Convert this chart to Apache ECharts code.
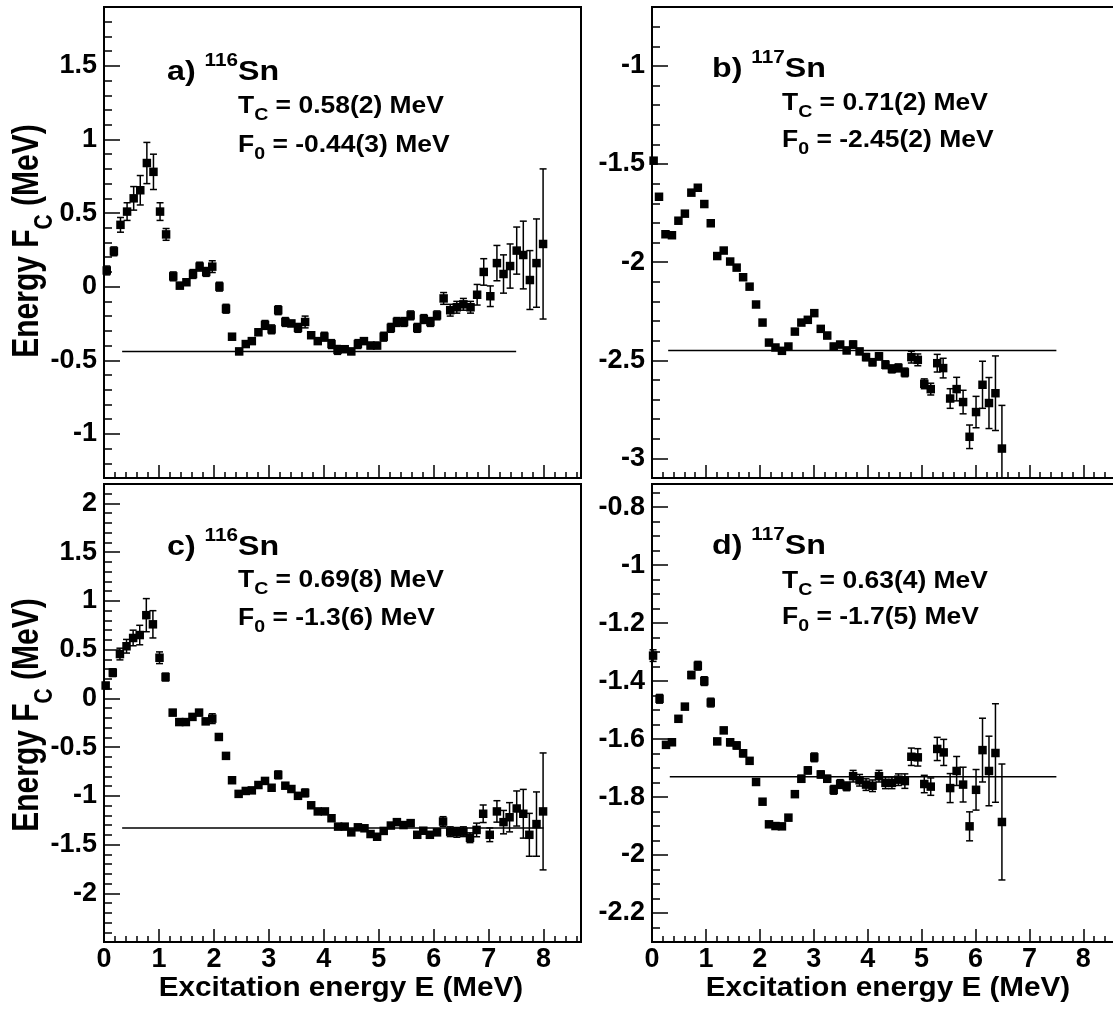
<!DOCTYPE html>
<html>
<head>
<meta charset="utf-8">
<script src="https://cdn.jsdelivr.net/npm/echarts@6/dist/echarts.min.js"></script>
<style>
  html, body { margin: 0; padding: 0; background: #fff; }
  #chart { width: 1113px; height: 1009px; }
</style>
</head>
<body>
<div id="chart"></div>
<script>
// ---- data ----
const aE = [0.05,0.18,0.30,0.42,0.54,0.66,0.78,0.90,1.02,1.13,1.26,1.38,1.50,1.62,1.74,1.86,1.97,2.10,2.22,2.33,2.46,2.58,2.69,2.81,2.93,3.05,3.17,3.30,3.41,3.53,3.66,3.77,3.89,4.01,4.14,4.25,4.38,4.50,4.62,4.73,4.85,4.97,5.09,5.22,5.33,5.46,5.58,5.70,5.82,5.94,6.06,6.18,6.30,6.42,6.54,6.67,6.79,6.91,7.03,7.15,7.27,7.39,7.51,7.63,7.75,7.87,7.99]
const aF = [0.11,0.24,0.42,0.51,0.60,0.655,0.84,0.78,0.51,0.355,0.07,0.007,0.03,0.086,0.136,0.10,0.136,0.0,-0.15,-0.34,-0.44,-0.39,-0.37,-0.31,-0.26,-0.29,-0.16,-0.24,-0.25,-0.28,-0.24,-0.33,-0.37,-0.34,-0.39,-0.43,-0.425,-0.44,-0.39,-0.37,-0.40,-0.40,-0.34,-0.28,-0.24,-0.24,-0.195,-0.28,-0.22,-0.24,-0.195,-0.08,-0.16,-0.14,-0.12,-0.14,-0.055,0.10,-0.065,0.16,0.086,0.14,0.245,0.215,0.045,0.16,0.29]
const aErr = [0.03,0.03,0.05,0.06,0.08,0.10,0.14,0.12,0.06,0.04,0.03,0.02,0.02,0.03,0.03,0.03,0.04,0.03,0.03,0.02,0.02,0.02,0.02,0.02,0.03,0.03,0.03,0.03,0.02,0.03,0.04,0.02,0.02,0.03,0.03,0.03,0.02,0.02,0.03,0.02,0.02,0.02,0.03,0.03,0.03,0.03,0.03,0.03,0.03,0.03,0.03,0.04,0.04,0.04,0.04,0.04,0.07,0.09,0.07,0.12,0.13,0.15,0.16,0.23,0.2,0.3,0.51]

const bE = [0.03,0.13,0.25,0.37,0.49,0.61,0.73,0.85,0.97,1.09,1.21,1.33,1.45,1.57,1.69,1.81,1.93,2.05,2.17,2.29,2.41,2.53,2.65,2.77,2.89,3.01,3.13,3.25,3.37,3.49,3.61,3.73,3.85,3.97,4.09,4.21,4.33,4.45,4.57,4.69,4.81,4.93,5.05,5.17,5.29,5.40,5.53,5.65,5.77,5.89,6.01,6.13,6.25,6.37,6.49]
const bF = [-1.483,-1.667,-1.858,-1.863,-1.789,-1.753,-1.646,-1.621,-1.704,-1.802,-1.969,-1.941,-1.997,-2.028,-2.077,-2.125,-2.216,-2.308,-2.41,-2.435,-2.452,-2.43,-2.354,-2.308,-2.294,-2.26,-2.34,-2.374,-2.43,-2.42,-2.45,-2.42,-2.455,-2.484,-2.51,-2.48,-2.523,-2.544,-2.539,-2.562,-2.484,-2.498,-2.62,-2.647,-2.515,-2.54,-2.695,-2.647,-2.713,-2.89,-2.764,-2.625,-2.718,-2.668,-2.95]
const bErr = [0.012,0.012,0.01,0.01,0.01,0.01,0.012,0.012,0.012,0.012,0.01,0.01,0.01,0.01,0.01,0.01,0.01,0.01,0.01,0.01,0.01,0.012,0.012,0.012,0.012,0.012,0.012,0.015,0.015,0.015,0.015,0.018,0.015,0.018,0.018,0.018,0.02,0.02,0.02,0.022,0.03,0.03,0.025,0.03,0.045,0.05,0.05,0.06,0.06,0.06,0.08,0.12,0.13,0.19,0.22]

const cE = [0.03,0.16,0.29,0.41,0.53,0.65,0.77,0.89,1.01,1.12,1.25,1.37,1.49,1.61,1.73,1.85,1.97,2.09,2.22,2.33,2.45,2.58,2.69,2.81,2.93,3.05,3.17,3.30,3.41,3.53,3.66,3.77,3.89,4.02,4.14,4.26,4.38,4.50,4.62,4.74,4.85,4.97,5.09,5.22,5.33,5.45,5.58,5.70,5.81,5.93,6.06,6.17,6.30,6.42,6.54,6.66,6.78,6.90,7.02,7.15,7.27,7.38,7.51,7.63,7.74,7.87,7.99]
const cF = [0.132,0.264,0.455,0.535,0.62,0.65,0.854,0.76,0.417,0.219,-0.146,-0.243,-0.243,-0.19,-0.146,-0.236,-0.208,-0.396,-0.59,-0.84,-0.98,-0.95,-0.944,-0.889,-0.847,-0.917,-0.785,-0.896,-0.93,-1.0,-0.97,-1.097,-1.16,-1.16,-1.23,-1.316,-1.316,-1.375,-1.323,-1.333,-1.392,-1.42,-1.36,-1.305,-1.27,-1.30,-1.28,-1.40,-1.358,-1.40,-1.375,-1.264,-1.368,-1.375,-1.368,-1.43,-1.35,-1.184,-1.40,-1.16,-1.27,-1.22,-1.13,-1.184,-1.40,-1.29,-1.16]
const cErr = [0.03,0.04,0.06,0.07,0.08,0.1,0.17,0.14,0.06,0.04,0.03,0.02,0.02,0.03,0.03,0.03,0.05,0.03,0.03,0.02,0.02,0.02,0.02,0.02,0.02,0.02,0.04,0.02,0.02,0.02,0.04,0.02,0.02,0.02,0.02,0.02,0.02,0.02,0.02,0.02,0.02,0.02,0.02,0.02,0.03,0.03,0.03,0.03,0.03,0.03,0.03,0.05,0.05,0.05,0.05,0.05,0.07,0.09,0.07,0.11,0.12,0.15,0.18,0.25,0.22,0.33,0.6]

const dE = [0.02,0.14,0.26,0.37,0.49,0.61,0.73,0.85,0.97,1.09,1.21,1.33,1.45,1.57,1.69,1.81,1.93,2.05,2.17,2.29,2.41,2.53,2.65,2.77,2.89,3.01,3.13,3.25,3.37,3.49,3.61,3.73,3.85,3.97,4.09,4.21,4.33,4.45,4.57,4.69,4.81,4.93,5.05,5.17,5.29,5.41,5.53,5.65,5.77,5.89,6.01,6.13,6.25,6.37,6.49]
const dF = [-1.312,-1.461,-1.62,-1.611,-1.53,-1.488,-1.379,-1.347,-1.40,-1.474,-1.608,-1.57,-1.611,-1.622,-1.649,-1.675,-1.748,-1.816,-1.894,-1.90,-1.901,-1.871,-1.79,-1.737,-1.708,-1.663,-1.722,-1.737,-1.775,-1.755,-1.763,-1.728,-1.742,-1.757,-1.761,-1.728,-1.751,-1.751,-1.74,-1.745,-1.661,-1.663,-1.755,-1.764,-1.634,-1.646,-1.769,-1.71,-1.757,-1.901,-1.775,-1.638,-1.71,-1.648,-1.886]
const dErr = [0.02,0.015,0.01,0.01,0.01,0.01,0.012,0.015,0.015,0.015,0.01,0.01,0.012,0.012,0.012,0.01,0.01,0.008,0.008,0.008,0.008,0.01,0.01,0.012,0.012,0.015,0.012,0.012,0.015,0.015,0.015,0.02,0.02,0.02,0.02,0.02,0.02,0.02,0.02,0.025,0.03,0.03,0.03,0.03,0.04,0.045,0.05,0.05,0.06,0.05,0.07,0.11,0.12,0.17,0.2]

// fitted F0 levels (horizontal lines) and their E extent
const lineA = [[0.33, -0.44], [7.5, -0.44]]
const lineB = [[0.3, -2.45], [7.5, -2.45]]
const lineC = [[0.33, -1.33], [8.0, -1.33]]
const lineD = [[0.33, -1.73], [7.5, -1.73]]

// axis ticks
const xTicks = [0, 1, 2, 3, 4, 5, 6, 7, 8]
const yTicksA = [-1, -0.5, 0, 0.5, 1, 1.5]
const yTicksB = [-3, -2.5, -2, -1.5, -1]
const yTicksC = [-2, -1.5, -1, -0.5, 0, 0.5, 1, 1.5, 2]
const yTicksD = [-2.2, -2, -1.8, -1.6, -1.4, -1.2, -1, -0.8]

const FF = '"Liberation Sans", Arial, Helvetica, sans-serif'

const steps = (from, to, step) => {
  const out = []
  const n = Math.round((to - from) / step)
  for (let i = 0; i <= n; i++) out.push(+(from + i * step).toFixed(3))
  return out
}

const panels = [
  { E: aE, F: aF, err: aErr, line: lineA, yMin: -1.3, yMax: 1.9, yTicks: yTicksA, yMinor: steps(-1.3, 1.9, 0.1), labels: false,
    grid: { left: 104, top: 7, width: 477, height: 471 } },
  { E: bE, F: bF, err: bErr, line: lineB, yMin: -3.1, yMax: -0.7, yTicks: yTicksB, yMinor: steps(-3.1, -0.7, 0.1), labels: false,
    grid: { left: 652, top: 7, width: 468, height: 471 } },
  { E: cE, F: cF, err: cErr, line: lineC, yMin: -2.5, yMax: 2.2, yTicks: yTicksC, yMinor: steps(-2.5, 2.2, 0.1), labels: true,
    grid: { left: 104, top: 484, width: 477, height: 458 } },
  { E: dE, F: dF, err: dErr, line: lineD, yMin: -2.3, yMax: -0.72, yTicks: yTicksD, yMinor: steps(-2.3, -0.75, 0.05), labels: true,
    grid: { left: 652, top: 484, width: 468, height: 458 } },
]
const xMax = 8.68
const xMinor = steps(0, 8.6, 0.2)

const labelStyle = { color: '#000', fontFamily: FF, fontWeight: 'bold', fontSize: 27 }
const tickLine = { color: '#000', width: 1.5 }

const grid = [], xAxis = [], yAxis = [], series = []
panels.forEach((p, i) => {
  grid.push({ ...p.grid, show: true, borderColor: '#000', borderWidth: 2, backgroundColor: 'transparent', containLabel: false, outerBoundsMode: 'none' })
  // major + minor x axis (minor one only carries the short ticks)
  xAxis.push({
    gridIndex: i, type: 'value', min: 0, max: xMax, position: 'bottom',
    axisLine: { show: true, onZero: false, lineStyle: { color: '#000', width: 2 } },
    axisTick: { show: true, inside: true, length: 13, customValues: xTicks, lineStyle: tickLine },
    axisLabel: { show: p.labels, customValues: xTicks, margin: 4, ...labelStyle, formatter: v => String(+v.toFixed(2)) },
    splitLine: { show: false }
  })
  xAxis.push({
    gridIndex: i, type: 'value', min: 0, max: xMax, position: 'bottom',
    axisLine: { show: false, onZero: false },
    axisTick: { show: true, inside: true, length: 6, customValues: xMinor, lineStyle: tickLine },
    axisLabel: { show: false }, splitLine: { show: false }
  })
  yAxis.push({
    gridIndex: i, type: 'value', min: p.yMin, max: p.yMax, position: 'left',
    axisLine: { show: true, onZero: false, lineStyle: { color: '#000', width: 2 } },
    axisTick: { show: true, inside: true, length: 16, customValues: p.yTicks, lineStyle: tickLine },
    axisLabel: { show: true, customValues: p.yTicks, margin: 7, ...labelStyle, formatter: v => String(+v.toFixed(2)) },
    splitLine: { show: false }
  })
  yAxis.push({
    gridIndex: i, type: 'value', min: p.yMin, max: p.yMax, position: 'left',
    axisLine: { show: false, onZero: false },
    axisTick: { show: true, inside: true, length: 8, customValues: p.yMinor, lineStyle: tickLine },
    axisLabel: { show: false }, splitLine: { show: false }
  })

  const ax = { xAxisIndex: 2 * i, yAxisIndex: 2 * i }
  series.push({
    ...ax, type: 'line', data: p.line, symbol: 'none', silent: true,
    lineStyle: { color: '#000', width: 1.5 }, z: 2
  })
  series.push({
    ...ax, type: 'custom', z: 3, silent: true,
    data: p.E.map((e, k) => [e, p.F[k], p.err[k]]),
    encode: { x: 0, y: 1 },
    renderItem(params, api) {
      const cs = params.coordSys
      const x = api.value(0), y = api.value(1), e = api.value(2)
      const hi = api.coord([x, y + e]), lo = api.coord([x, y - e])
      const top = Math.max(hi[1], cs.y), bot = Math.min(lo[1], cs.y + cs.height)
      const st = { stroke: '#000', lineWidth: 1.5 }
      const w = 3.5
      const kids = [{ type: 'line', shape: { x1: hi[0], y1: top, x2: hi[0], y2: bot }, style: st }]
      if (top === hi[1]) kids.push({ type: 'line', shape: { x1: hi[0] - w, y1: top, x2: hi[0] + w, y2: top }, style: st })
      if (bot === lo[1]) kids.push({ type: 'line', shape: { x1: lo[0] - w, y1: bot, x2: lo[0] + w, y2: bot }, style: st })
      return { type: 'group', children: kids }
    }
  })
  series.push({
    ...ax, type: 'scatter', symbol: 'rect', symbolSize: 8.5, z: 4, silent: true,
    data: p.E.map((e, k) => [e, p.F[k]]),
    itemStyle: { color: '#000', opacity: 1 }
  })
})

// ---- text (runs of normal / sub / superscript pieces) ----
const mctx = document.createElement('canvas').getContext('2d')
const textW = (t, size) => { mctx.font = 'bold ' + size + 'px ' + FF; return mctx.measureText(t).width }

function runs(x, y, parts, opt = {}) {
  let cx = 0
  const children = parts.map(([t, size, dy]) => {
    const el = {
      type: 'text', x: cx, y: dy || 0,
      style: { text: t, fill: '#000', font: 'bold ' + size + 'px ' + FF, align: 'left', verticalAlign: 'middle', textAlign: 'left', textVerticalAlign: 'middle' }
    }
    cx += textW(t, size)
    return el
  })
  if (opt.center) children.forEach(c => { c.x -= cx / 2 })
  return { type: 'group', x, y, rotation: opt.rotation || 0, scaleX: opt.sx || 1, scaleY: opt.sy || 1, silent: true, children }
}

const nucleus = (x, y, tag, mass) => runs(x, y, [[tag + ' ', 28, 0], [mass, 18, -11], ['Sn', 28, 0]], { sx: 1.15 })
const param = (x, y, sym, sub, rest) => runs(x, y, [[sym, 23, 0], [sub, 17, 8], [rest, 23, 0]], { sx: 1.15 })

const graphic = [
  nucleus(167, 72, 'a)', '116'),
  param(238, 107, 'T', 'C', ' = 0.58(2) MeV'),
  param(238, 146, 'F', '0', ' = -0.44(3) MeV'),

  nucleus(712, 69, 'b)', '117'),
  param(782, 104, 'T', 'C', ' = 0.71(2) MeV'),
  param(782, 141, 'F', '0', ' = -2.45(2) MeV'),

  nucleus(167, 547, 'c)', '116'),
  param(238, 581, 'T', 'C', ' = 0.69(8) MeV'),
  param(238, 619, 'F', '0', ' = -1.3(6) MeV'),

  nucleus(712, 546, 'd)', '117'),
  param(782, 582, 'T', 'C', ' = 0.63(4) MeV'),
  param(782, 618, 'F', '0', ' = -1.7(5) MeV'),

  // axis titles
  runs(28, 241, [['Energy F', 30, 0], ['C', 21, 14], [' (MeV)', 30, 0]], { center: true, rotation: Math.PI / 2, sy: 1.2 }),
  runs(28, 715, [['Energy F', 30, 0], ['C', 21, 14], [' (MeV)', 30, 0]], { center: true, rotation: Math.PI / 2, sy: 1.2 }),
  runs(341, 988, [['Excitation energy E (MeV)', 28, 0]], { center: true, sx: 1.06 }),
  runs(888, 988, [['Excitation energy E (MeV)', 28, 0]], { center: true, sx: 1.06 }),
]

const chart = echarts.init(document.getElementById('chart'), null, { renderer: 'canvas' })
chart.setOption({
  animation: false,
  backgroundColor: '#fff',
  grid, xAxis, yAxis, series, graphic
})
</script>
</body>
</html>
